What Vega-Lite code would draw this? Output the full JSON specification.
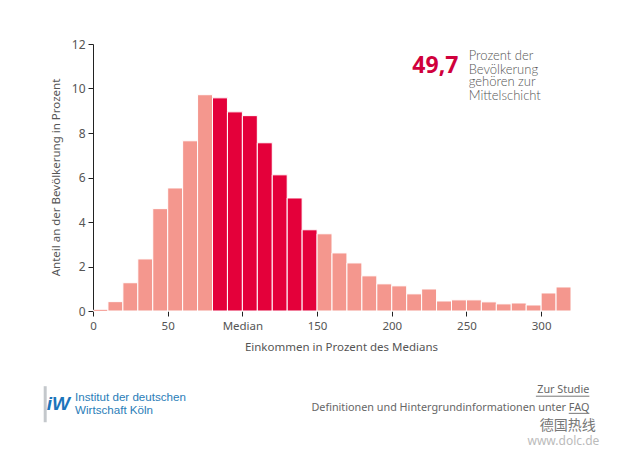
{"$schema":"https://vega.github.io/schema/vega-lite/v6.json","width":478,"height":267,"autosize":{"type":"none"},"padding":{"left":93,"top":44,"right":48,"bottom":143},"background":"white","config":{"view":{"stroke":null},"text":{"font":"Noto Sans"},"axis":{"labelFont":"Noto Sans","titleFont":"Noto Sans"}},"layer":[{"data":{"values":[{"lo":0,"hi":10,"share":0.03,"group":"Rest"},{"lo":10,"hi":20,"share":0.42,"group":"Rest"},{"lo":20,"hi":30,"share":1.27,"group":"Rest"},{"lo":30,"hi":40,"share":2.34,"group":"Rest"},{"lo":40,"hi":50,"share":4.6,"group":"Rest"},{"lo":50,"hi":60,"share":5.53,"group":"Rest"},{"lo":60,"hi":70,"share":7.65,"group":"Rest"},{"lo":70,"hi":80,"share":9.72,"group":"Rest"},{"lo":80,"hi":90,"share":9.58,"group":"Mitte"},{"lo":90,"hi":100,"share":8.95,"group":"Mitte"},{"lo":100,"hi":110,"share":8.78,"group":"Mitte"},{"lo":110,"hi":120,"share":7.56,"group":"Mitte"},{"lo":120,"hi":130,"share":6.12,"group":"Mitte"},{"lo":130,"hi":140,"share":5.08,"group":"Mitte"},{"lo":140,"hi":150,"share":3.65,"group":"Mitte"},{"lo":150,"hi":160,"share":3.47,"group":"Rest"},{"lo":160,"hi":170,"share":2.61,"group":"Rest"},{"lo":170,"hi":180,"share":2.16,"group":"Rest"},{"lo":180,"hi":190,"share":1.58,"group":"Rest"},{"lo":190,"hi":200,"share":1.22,"group":"Rest"},{"lo":200,"hi":210,"share":1.13,"group":"Rest"},{"lo":210,"hi":220,"share":0.77,"group":"Rest"},{"lo":220,"hi":230,"share":0.99,"group":"Rest"},{"lo":230,"hi":240,"share":0.45,"group":"Rest"},{"lo":240,"hi":250,"share":0.5,"group":"Rest"},{"lo":250,"hi":260,"share":0.5,"group":"Rest"},{"lo":260,"hi":270,"share":0.41,"group":"Rest"},{"lo":270,"hi":280,"share":0.32,"group":"Rest"},{"lo":280,"hi":290,"share":0.36,"group":"Rest"},{"lo":290,"hi":300,"share":0.27,"group":"Rest"},{"lo":300,"hi":310,"share":0.81,"group":"Rest"},{"lo":310,"hi":320,"share":1.08,"group":"Rest"}]},"mark":{"type":"rect","stroke":"white","strokeWidth":1},"encoding":{"x":{"field":"lo","type":"quantitative","scale":{"domain":[0,320],"nice":false,"zero":false},"axis":{"values":[0,50,100,150,200,250,300],"labelExpr":"datum.value==100?'Median':datum.label","domain":false,"grid":false,"tickColor":"#222","tickSize":5,"labelColor":"#555","labelFontSize":11.5,"labelPadding":4,"titleColor":"#555","titleFontSize":11.5,"titleFontWeight":"normal","title":"Einkommen in Prozent des Medians","titleX":248,"titleY":30,"labelFlush":false}},"x2":{"field":"hi"},"y":{"field":"share","type":"quantitative","scale":{"domain":[0,12],"nice":false},"axis":{"values":[0,2,4,6,8,10,12],"domainColor":"#222","grid":false,"tickColor":"#222","tickSize":5,"labelColor":"#555","labelFontSize":12,"labelPadding":3,"titleColor":"#555","titleFontSize":11.5,"titleFontWeight":"normal","title":"Anteil an der Bevölkerung in Prozent","titleX":-32,"titleY":133}},"y2":{"datum":0},"color":{"field":"group","type":"nominal","scale":{"domain":["Mitte","Rest"],"range":["#e4003a","#f4978e"]},"legend":null}}},{"data":{"values":[{"lo":0.5,"hi":9.5,"share":0.03}]},"mark":{"type":"rule","color":"#f4978e","strokeWidth":1},"encoding":{"x":{"field":"lo","type":"quantitative"},"x2":{"field":"hi"},"y":{"field":"share","type":"quantitative"}}},{"data":{"values":[{"x0":296.5,"x1":332.3,"yv":-3.83},{"x0":318.5,"x1":332.3,"yv":-4.6}]},"mark":{"type":"rule","color":"#777","strokeWidth":1},"encoding":{"x":{"field":"x0","type":"quantitative"},"x2":{"field":"x1"},"y":{"field":"yv","type":"quantitative"}}},{"data":{"values":[{"x0":-33,"x1":-31,"y0":-3.38,"y1":-5}]},"mark":{"type":"rect","color":"#c4c8cc"},"encoding":{"x":{"field":"x0","type":"quantitative"},"x2":{"field":"x1"},"y":{"field":"y0","type":"quantitative"},"y2":{"field":"y1"}}},{"data":{"values":[{"x":229.2,"y":11,"label":"49,7"}]},"mark":{"type":"text","align":"center","baseline":"middle","fontSize":23,"fontWeight":"bold","color":"#d0003c"},"encoding":{"x":{"field":"x","type":"quantitative"},"y":{"field":"y","type":"quantitative"},"text":{"field":"label"}}},{"data":{"values":[{"x":251.5,"y":11.44,"label":"Prozent der"},{"x":251.5,"y":10.85,"label":"Bevölkerung"},{"x":251.5,"y":10.27,"label":"gehören zur"},{"x":251.5,"y":9.68,"label":"Mittelschicht"}]},"mark":{"type":"text","align":"left","baseline":"middle","fontSize":13,"font":"Lato","fontWeight":300,"color":"#555"},"encoding":{"x":{"field":"x","type":"quantitative"},"y":{"field":"y","type":"quantitative"},"text":{"field":"label"}}},{"data":{"values":[{"x":332.3,"y":-3.56,"label":"Zur Studie"},{"x":332.3,"y":-4.34,"label":"Definitionen und Hintergrundinformationen unter FAQ"}]},"mark":{"type":"text","align":"right","baseline":"middle","fontSize":10.8,"color":"#666"},"encoding":{"x":{"field":"x","type":"quantitative"},"y":{"field":"y","type":"quantitative"},"text":{"field":"label"}}},{"data":{"values":[{"x":-12,"y":-3.89,"label":"Institut der deutschen"},{"x":-12,"y":-4.5,"label":"Wirtschaft Köln"}]},"mark":{"type":"text","align":"left","baseline":"middle","fontSize":11.6,"font":"Liberation Sans","color":"#2a7db8"},"encoding":{"x":{"field":"x","type":"quantitative"},"y":{"field":"y","type":"quantitative"},"text":{"field":"label"}}},{"data":{"values":[{"x":-31,"y":-4.2,"label":"iW"}]},"mark":{"type":"text","align":"left","baseline":"middle","fontSize":19,"font":"Liberation Sans","fontWeight":"bold","fontStyle":"italic","color":"#1b75bb"},"encoding":{"x":{"field":"x","type":"quantitative"},"y":{"field":"y","type":"quantitative"},"text":{"field":"label"}}},{"data":{"values":[{"x":299,"y":-5.17,"label":"德国热线"}]},"mark":{"type":"text","align":"left","baseline":"middle","fontSize":14,"font":"Noto Sans CJK SC","color":"#777"},"encoding":{"x":{"field":"x","type":"quantitative"},"y":{"field":"y","type":"quantitative"},"text":{"field":"label"}}},{"data":{"values":[{"x":339,"y":-5.85,"label":"www.dolc.de"}]},"mark":{"type":"text","align":"right","baseline":"middle","fontSize":12,"color":"#bbb"},"encoding":{"x":{"field":"x","type":"quantitative"},"y":{"field":"y","type":"quantitative"},"text":{"field":"label"}}}]}
